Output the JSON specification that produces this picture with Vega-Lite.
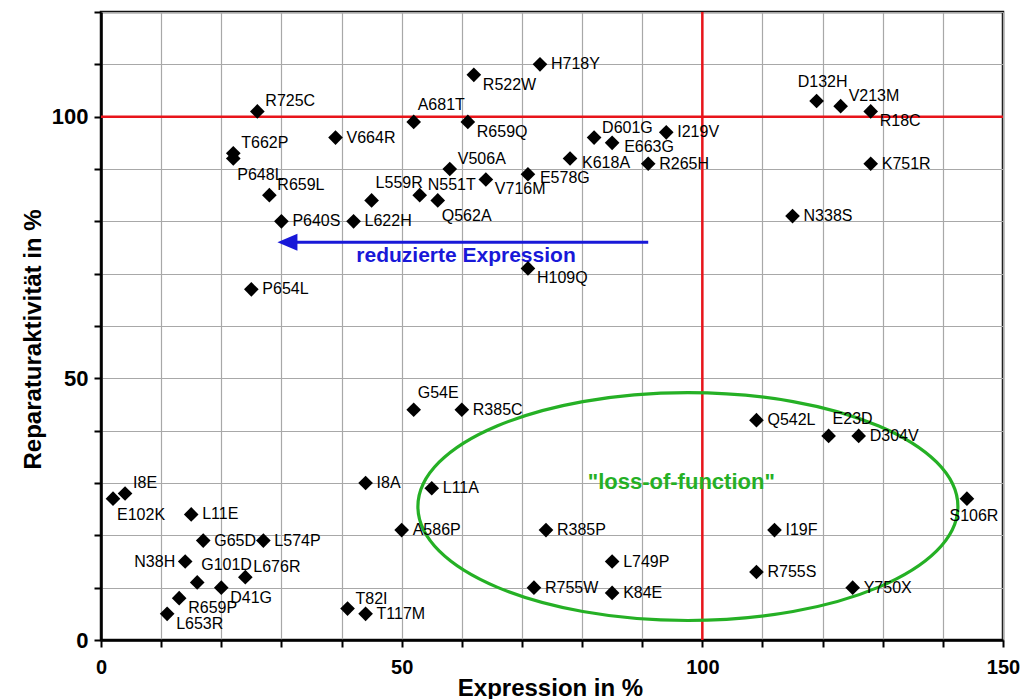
{
  "$schema": "https://vega.github.io/schema/vega-lite/v6.json",
  "width": 902,
  "height": 628,
  "autosize": {"type": "none"},
  "padding": {"left": 101, "top": 12, "right": 17, "bottom": 59},
  "background": "white",
  "config": {
    "view": {"stroke": "#111111", "strokeWidth": 2.5},
    "axis": {
      "domainColor": "black", "domainWidth": 2.5,
      "tickColor": "black", "tickWidth": 2, "tickSize": 7,
      "gridColor": "#a8a8a8", "gridWidth": 1.2,
      "labelFont": "Liberation Sans", "labelFontWeight": "bold", "labelColor": "black",
      "titleFont": "Liberation Sans", "titleFontWeight": "bold", "titleColor": "black"
    },
    "text": {"font": "Liberation Sans"}
  },
  "datasets": {
    "mut": [
      {"name": "R725C", "expression": 26, "activity": 101},
      {"name": "T662P", "expression": 22, "activity": 93},
      {"name": "P648L", "expression": 22, "activity": 92},
      {"name": "R659L", "expression": 28, "activity": 85},
      {"name": "P640S", "expression": 30, "activity": 80},
      {"name": "L622H", "expression": 42, "activity": 80},
      {"name": "L559R", "expression": 45, "activity": 84},
      {"name": "V664R", "expression": 39, "activity": 96},
      {"name": "P654L", "expression": 25, "activity": 67},
      {"name": "A681T", "expression": 52, "activity": 99},
      {"name": "R659Q", "expression": 61, "activity": 99},
      {"name": "R522W", "expression": 62, "activity": 108},
      {"name": "H718Y", "expression": 73, "activity": 110},
      {"name": "V506A", "expression": 58, "activity": 90},
      {"name": "N551T", "expression": 53, "activity": 85},
      {"name": "Q562A", "expression": 56, "activity": 84},
      {"name": "V716M", "expression": 64, "activity": 88},
      {"name": "E578G", "expression": 71, "activity": 89},
      {"name": "K618A", "expression": 78, "activity": 92},
      {"name": "D601G", "expression": 82, "activity": 96},
      {"name": "E663G", "expression": 85, "activity": 95},
      {"name": "I219V", "expression": 94, "activity": 97},
      {"name": "R265H", "expression": 91, "activity": 91},
      {"name": "H109Q", "expression": 71, "activity": 71},
      {"name": "D132H", "expression": 119, "activity": 103},
      {"name": "V213M", "expression": 123, "activity": 102},
      {"name": "R18C", "expression": 128, "activity": 101},
      {"name": "K751R", "expression": 128, "activity": 91},
      {"name": "N338S", "expression": 115, "activity": 81},
      {"name": "I8E", "expression": 4, "activity": 28},
      {"name": "E102K", "expression": 2, "activity": 27},
      {"name": "L11E", "expression": 15, "activity": 24},
      {"name": "G65D", "expression": 17, "activity": 19},
      {"name": "L574P", "expression": 27, "activity": 19},
      {"name": "N38H", "expression": 14, "activity": 15},
      {"name": "G101D", "expression": 16, "activity": 11},
      {"name": "D41G", "expression": 20, "activity": 10},
      {"name": "L676R", "expression": 24, "activity": 12},
      {"name": "R659P", "expression": 13, "activity": 8},
      {"name": "L653R", "expression": 11, "activity": 5},
      {"name": "T82I", "expression": 41, "activity": 6},
      {"name": "T117M", "expression": 44, "activity": 5},
      {"name": "I8A", "expression": 44, "activity": 30},
      {"name": "A586P", "expression": 50, "activity": 21},
      {"name": "G54E", "expression": 52, "activity": 44},
      {"name": "R385C", "expression": 60, "activity": 44},
      {"name": "L11A", "expression": 55, "activity": 29},
      {"name": "R385P", "expression": 74, "activity": 21},
      {"name": "L749P", "expression": 85, "activity": 15},
      {"name": "R755W", "expression": 72, "activity": 10},
      {"name": "K84E", "expression": 85, "activity": 9},
      {"name": "Q542L", "expression": 109, "activity": 42},
      {"name": "E23D", "expression": 121, "activity": 39},
      {"name": "D304V", "expression": 126, "activity": 39},
      {"name": "S106R", "expression": 144, "activity": 27},
      {"name": "I19F", "expression": 112, "activity": 21},
      {"name": "R755S", "expression": 109, "activity": 13},
      {"name": "Y750X", "expression": 125, "activity": 10}
    ],
    "refs": [{"expression": 100, "activity": 100}],
    "arrow": [{"expression": 91, "expression2": 31, "activity": 76}],
    "ellipse": [{"expression": 97.6, "activity": 25.5}],
    "blueText": [{"expression": 60.7, "activity": 73.4, "label": "reduzierte Expression"}],
    "greenText": [{"expression": 96.5, "activity": 30.1, "label": "\"loss-of-function\""}]
  },
  "layer": [
    {
      "data": {"name": "refs"},
      "mark": {"type": "rule", "color": "#e8141a", "strokeWidth": 2.5},
      "encoding": {
        "y": {
          "field": "activity", "type": "quantitative",
          "scale": {"domain": [0, 120], "nice": false, "zero": false},
          "axis": {
            "title": "Reparaturaktivität in %",
            "values": [0, 10, 20, 30, 40, 50, 60, 70, 80, 90, 100, 110, 120],
            "labelExpr": "datum.value % 50 === 0 ? datum.label : ''",
            "grid": true, "labelFontSize": 22, "labelPadding": 6,
            "labelFlush": false, "labelOverlap": false,
            "titleFontSize": 24, "titleX": -61, "titleY": 327, "titleAngle": 270,
            "titleAlign": "center", "titleBaseline": "alphabetic"
          }
        }
      }
    },
    {
      "data": {"name": "refs"},
      "mark": {"type": "rule", "color": "#e8141a", "strokeWidth": 2.5},
      "encoding": {
        "x": {
          "field": "expression", "type": "quantitative",
          "scale": {"domain": [0, 150], "nice": false, "zero": false},
          "axis": {
            "title": "Expression in %",
            "values": [0, 10, 20, 30, 40, 50, 60, 70, 80, 90, 100, 110, 120, 130, 140, 150],
            "labelExpr": "datum.value % 50 === 0 ? datum.label : ''",
            "grid": true, "labelFontSize": 20, "labelPadding": 10,
            "labelFlush": false, "labelOverlap": false,
            "titleFontSize": 24, "titleX": 449, "titleY": 55,
            "titleAlign": "center", "titleBaseline": "alphabetic"
          }
        }
      }
    },
    {
      "data": {"name": "ellipse"},
      "mark": {
        "type": "point",
        "shape": "M-1,0 C-1,-0.233 -0.552,-0.422 0,-0.422 C0.552,-0.422 1,-0.233 1,0 C1,0.233 0.552,0.422 0,0.422 C-0.552,0.422 -1,0.233 -1,0 Z",
        "filled": false, "stroke": "#25b025", "strokeWidth": 3.2, "size": 291600, "opacity": 1
      },
      "encoding": {
        "x": {"field": "expression", "type": "quantitative"},
        "y": {"field": "activity", "type": "quantitative"}
      }
    },
    {
      "data": {"name": "arrow"},
      "mark": {"type": "rule", "color": "#1818d8", "strokeWidth": 3},
      "encoding": {
        "x": {"field": "expression", "type": "quantitative"},
        "x2": {"field": "expression2"},
        "y": {"field": "activity", "type": "quantitative"}
      }
    },
    {
      "data": {"name": "arrow"},
      "mark": {"type": "point", "shape": "M-1,0 L1,-0.85 L1,0.85 Z", "filled": true, "color": "#1818d8", "size": 400, "opacity": 1},
      "encoding": {
        "x": {"field": "expression2", "type": "quantitative"},
        "y": {"field": "activity", "type": "quantitative"}
      }
    },
    {
      "data": {"name": "blueText"},
      "mark": {"type": "text", "color": "#1818d8", "fontSize": 21, "fontWeight": "bold", "align": "center", "baseline": "middle"},
      "encoding": {
        "x": {"field": "expression", "type": "quantitative"},
        "y": {"field": "activity", "type": "quantitative"},
        "text": {"field": "label"}
      }
    },
    {
      "data": {"name": "greenText"},
      "mark": {"type": "text", "color": "#25b025", "fontSize": 22, "fontWeight": "bold", "align": "center", "baseline": "middle"},
      "encoding": {
        "x": {"field": "expression", "type": "quantitative"},
        "y": {"field": "activity", "type": "quantitative"},
        "text": {"field": "label"}
      }
    },
    {
      "data": {"name": "mut"},
      "mark": {"type": "point", "shape": "diamond", "filled": true, "color": "black", "size": 215, "opacity": 1},
      "encoding": {
        "x": {"field": "expression", "type": "quantitative"},
        "y": {"field": "activity", "type": "quantitative"}
      }
    },
    {
      "data": {"name": "mut"},
      "transform": [{"filter": {"field": "name", "oneOf": ["P640S","L622H","I219V","R265H","H718Y","V664R","P654L","K751R","N338S","L11E","G65D","L574P","T117M","I8A","A586P","R385C","L11A","R385P","L749P","R755W","K84E","Q542L","D304V","I19F","R755S","Y750X"]}}],
      "mark": {"type": "text", "fontSize": 16, "color": "black", "align": "left", "baseline": "middle", "dx": 11, "dy": 0},
      "encoding": {
        "x": {"field": "expression", "type": "quantitative"},
        "y": {"field": "activity", "type": "quantitative"},
        "text": {"field": "name"}
      }
    },
    {
      "data": {"name": "mut"},
      "transform": [{"filter": {"field": "name", "oneOf": ["E578G","K618A","E663G"]}}],
      "mark": {"type": "text", "fontSize": 16, "color": "black", "align": "left", "baseline": "middle", "dx": 12, "dy": 4},
      "encoding": {
        "x": {"field": "expression", "type": "quantitative"},
        "y": {"field": "activity", "type": "quantitative"},
        "text": {"field": "name"}
      }
    },
    {
      "data": {"name": "mut"},
      "transform": [{"filter": {"field": "name", "oneOf": ["R725C","T662P","R659L","D601G","I8E","L676R","T82I","N551T","V506A","V213M"]}}],
      "mark": {"type": "text", "fontSize": 16, "color": "black", "align": "left", "baseline": "middle", "dx": 8, "dy": -10},
      "encoding": {
        "x": {"field": "expression", "type": "quantitative"},
        "y": {"field": "activity", "type": "quantitative"},
        "text": {"field": "name"}
      }
    },
    {
      "data": {"name": "mut"},
      "transform": [{"filter": {"field": "name", "oneOf": ["L559R","G101D","A681T","G54E","E23D"]}}],
      "mark": {"type": "text", "fontSize": 16, "color": "black", "align": "left", "baseline": "middle", "dx": 4, "dy": -17},
      "encoding": {
        "x": {"field": "expression", "type": "quantitative"},
        "y": {"field": "activity", "type": "quantitative"},
        "text": {"field": "name"}
      }
    },
    {
      "data": {"name": "mut"},
      "transform": [{"filter": {"field": "name", "oneOf": ["D132H"]}}],
      "mark": {"type": "text", "fontSize": 16, "color": "black", "align": "center", "baseline": "middle", "dx": 6, "dy": -19},
      "encoding": {
        "x": {"field": "expression", "type": "quantitative"},
        "y": {"field": "activity", "type": "quantitative"},
        "text": {"field": "name"}
      }
    },
    {
      "data": {"name": "mut"},
      "transform": [{"filter": {"field": "name", "oneOf": ["P648L","Q562A","E102K"]}}],
      "mark": {"type": "text", "fontSize": 16, "color": "black", "align": "left", "baseline": "middle", "dx": 4, "dy": 16},
      "encoding": {
        "x": {"field": "expression", "type": "quantitative"},
        "y": {"field": "activity", "type": "quantitative"},
        "text": {"field": "name"}
      }
    },
    {
      "data": {"name": "mut"},
      "transform": [{"filter": {"field": "name", "oneOf": ["V716M","H109Q","R659Q","R522W","R18C","D41G","R659P","L653R"]}}],
      "mark": {"type": "text", "fontSize": 16, "color": "black", "align": "left", "baseline": "middle", "dx": 9, "dy": 10},
      "encoding": {
        "x": {"field": "expression", "type": "quantitative"},
        "y": {"field": "activity", "type": "quantitative"},
        "text": {"field": "name"}
      }
    },
    {
      "data": {"name": "mut"},
      "transform": [{"filter": {"field": "name", "oneOf": ["S106R"]}}],
      "mark": {"type": "text", "fontSize": 16, "color": "black", "align": "center", "baseline": "middle", "dx": 7, "dy": 17},
      "encoding": {
        "x": {"field": "expression", "type": "quantitative"},
        "y": {"field": "activity", "type": "quantitative"},
        "text": {"field": "name"}
      }
    },
    {
      "data": {"name": "mut"},
      "transform": [{"filter": {"field": "name", "oneOf": ["N38H"]}}],
      "mark": {"type": "text", "fontSize": 16, "color": "black", "align": "right", "baseline": "middle", "dx": -10, "dy": 0},
      "encoding": {
        "x": {"field": "expression", "type": "quantitative"},
        "y": {"field": "activity", "type": "quantitative"},
        "text": {"field": "name"}
      }
    }
  ]
}
